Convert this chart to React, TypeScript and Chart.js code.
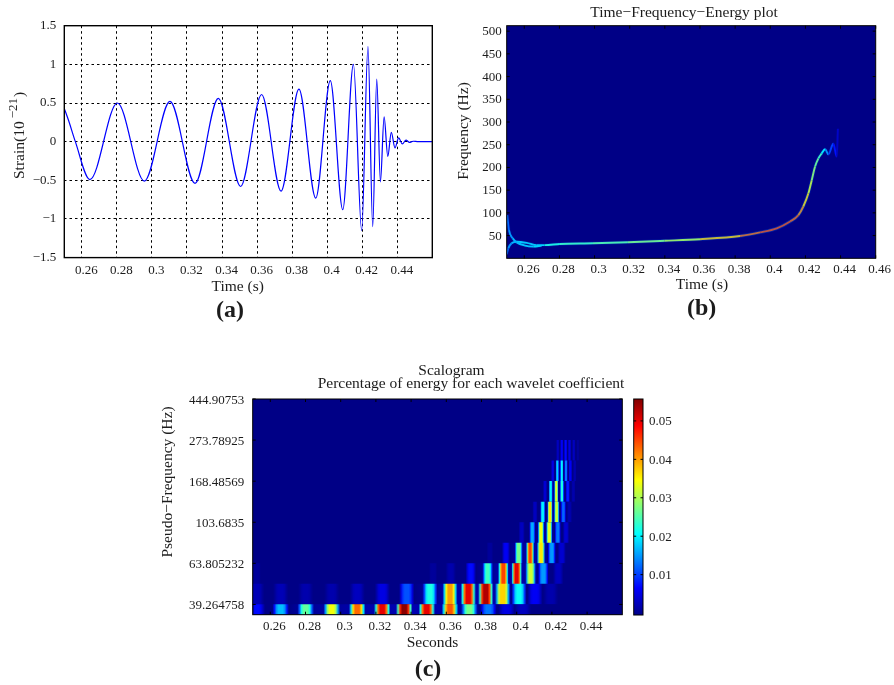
import React, { useEffect, useRef } from "react";
import { Chart, registerables } from "chart.js";

Chart.register(...registerables);

// ---------- panel (a): strain waveform ----------
const strainTimes = [0.25, 0.2525, 0.2563, 0.2646, 0.2803, 0.2957, 0.3103, 0.3246, 0.3379, 0.3506, 0.3626, 0.3737, 0.3839, 0.3935, 0.4018, 0.4089, 0.415, 0.4197, 0.4233, 0.426, 0.4283, 0.4304, 0.4325, 0.4346, 0.4366, 0.4387, 0.4408, 0.4429, 0.445, 0.447, 0.449, 0.452, 0.46];
const strainValues = [0.43, 0.27, 0, -0.49, 0.5, -0.51, 0.52, -0.54, 0.56, -0.58, 0.61, -0.64, 0.68, -0.73, 0.79, -0.88, 1.0, -1.15, 1.23, -1.1, 0.81, -0.52, 0.32, -0.19, 0.12, -0.08, 0.05, -0.03, 0.02, -0.01, 0.005, 0, 0];
const strainTicks = [-1.5, -1, -0.5, 0, 0.5, 1, 1.5];
const timeTicksA = [0.26, 0.28, 0.3, 0.32, 0.34, 0.36, 0.38, 0.4, 0.42, 0.44];
const timeTicksB = [0.26, 0.28, 0.3, 0.32, 0.34, 0.36, 0.38, 0.4, 0.42, 0.44, 0.46];

// ---------- panel (b): time-frequency-energy ridge ----------
const freqTicks = [50, 100, 150, 200, 250, 300, 350, 400, 450, 500];
const ridgeATimes = [0.2503, 0.2513, 0.2534, 0.2557, 0.2604, 0.2651, 0.2699];
const ridgeAFreq = [95, 62, 44, 35, 28, 26, 28];
const ridgeAEnergy = [0.2, 0.25, 0.3, 0.33, 0.32, 0.33, 0.38];
const ridgeBTimes = [0.25, 0.2509, 0.2528, 0.2557, 0.2614, 0.2671, 0.2716, 0.2803, 0.2991, 0.319, 0.34, 0.36, 0.3828, 0.3942, 0.4037, 0.4113, 0.416, 0.4188, 0.4217, 0.4236, 0.4255, 0.4274, 0.4293, 0.4312, 0.4331, 0.4359, 0.4378, 0.4385];
const ridgeBFreq = [9, 22, 33, 36.5, 34, 29, 29, 31.5, 33, 35.2, 38.5, 42, 49, 57, 66, 81, 95, 114, 143, 172, 202, 220, 231, 240, 229, 252, 224, 285];
const ridgeBEnergy = [0.2, 0.25, 0.3, 0.33, 0.33, 0.33, 0.36, 0.45, 0.42, 0.5, 0.5, 0.6, 0.75, 0.8, 0.82, 0.8, 0.78, 0.7, 0.62, 0.55, 0.5, 0.48, 0.4, 0.33, 0.2, 0.17, 0.1, 0.04];

// ---------- panel (c): scalogram ----------
const scaleLabels = ["39.264758", "63.805232", "103.6835", "168.48569", "273.78925", "444.90753"];
const timeTicksC = [0.26, 0.28, 0.3, 0.32, 0.34, 0.36, 0.38, 0.4, 0.42, 0.44];
const colorTicks = [0.01, 0.02, 0.03, 0.04, 0.05];
const rowLevels = [-0.125, 0.25, 0.75, 1.25, 1.75, 2.25, 2.75, 3.25, 3.75];
const rowHalfWidths = [0.0047, 0.0043, 0.003, 0.0023, 0.0018, 0.0015, 0.0012, 0.001, 0.0009];
const row0Times = [0.2523, 0.2659, 0.2801, 0.2949, 0.3094, 0.3236, 0.3361, 0.3489, 0.3621, 0.3731, 0.3839, 0.3943, 0.4035];
const row0Energy = [0.007, 0.017, 0.026, 0.034, 0.043, 0.05, 0.055, 0.05, 0.044, 0.027, 0.013, 0.005, 0.003];
const row1Times = [0.2523, 0.2659, 0.2801, 0.2949, 0.3094, 0.3237, 0.3375, 0.3507, 0.3621, 0.3725, 0.3824, 0.392, 0.4013, 0.4104, 0.4193];
const row1Energy = [0.0025, 0.0025, 0.002, 0.002, 0.003, 0.005, 0.011, 0.022, 0.04, 0.05, 0.053, 0.037, 0.021, 0.006, 0.002];
const row2Times = [0.2523, 0.3375, 0.3525, 0.3625, 0.3739, 0.3835, 0.3924, 0.4, 0.4079, 0.4151, 0.4236, 0.43];
const row2Energy = [0.001, 0.0005, 0.001, 0.002, 0.007, 0.024, 0.045, 0.05, 0.032, 0.015, 0.003, 0.0005];
const row3Times = [0.3848, 0.3939, 0.4011, 0.4076, 0.4138, 0.4199, 0.4256, 0.4313];
const row3Energy = [0.001, 0.006, 0.027, 0.045, 0.036, 0.015, 0.004, 0.0005];
const row4Times = [0.4028, 0.4089, 0.4138, 0.4185, 0.4233, 0.428];
const row4Energy = [0.003, 0.016, 0.034, 0.033, 0.013, 0.004];
const row5Times = [0.4104, 0.4148, 0.4189, 0.4227, 0.4265, 0.43];
const row5Energy = [0.003, 0.02, 0.036, 0.032, 0.012, 0.002];
const row6Times = [0.4161, 0.4193, 0.4225, 0.4257, 0.429, 0.4322];
const row6Energy = [0.004, 0.02, 0.033, 0.022, 0.008, 0.002];
const row7Times = [0.4205, 0.4231, 0.4256, 0.428, 0.4305, 0.433];
const row7Energy = [0.005, 0.018, 0.02, 0.013, 0.006, 0.002];
const row8Times = [0.4233, 0.4256, 0.4278, 0.43, 0.4324, 0.4347];
const row8Energy = [0.003, 0.006, 0.007, 0.005, 0.003, 0.001];
const rowTimes = [row0Times, row1Times, row2Times, row3Times, row4Times, row5Times, row6Times, row7Times, row8Times];
const rowEnergy = [row0Energy, row1Energy, row2Energy, row3Energy, row4Energy, row5Energy, row6Energy, row7Energy, row8Energy];

// ---------- styling helpers ----------
const SERIF = '"Liberation Serif", serif';
const INK = "#1c1c1c";
const NAVY = "#000086";
const TICK_FONT = { family: SERIF, size: 13 };
const W = 894;
const H = 685;
const CMIN = -0.0005;
const CMAX = 0.0557;

function clamp01(v: number) {
  return Math.max(0, Math.min(1, v));
}
function jet(x: number) {
  const f = (c: number) => Math.round(255 * clamp01(1.5 - Math.abs(4 * x - c)));
  const blue = x < 0.02 ? 134 : f(1);
  return `rgb(${f(3)},${f(2)},${blue})`;
}
const energyColor = (v: number) => jet((v - CMIN) / (CMAX - CMIN));
const tickText = (v: number) => (v < 0 ? "\u2212" + Math.abs(v) : String(+v.toFixed(4)));

type Label = { text: string; x: number; y: number; font: string; rotate?: boolean };
const titleFont = `15.5px ${SERIF}`;
const boldFont = `bold 24px ${SERIF}`;

function labelPlugin(labels: Label[]) {
  return {
    id: "panelLabels",
    afterDraw(chart: any) {
      const c = chart.ctx;
      for (const l of labels) {
        c.save();
        c.fillStyle = INK;
        c.font = l.font;
        c.textAlign = "center";
        c.textBaseline = "middle";
        c.translate(l.x, l.y);
        if (l.rotate) c.rotate(-Math.PI / 2);
        c.fillText(l.text, 0, 0);
        c.restore();
      }
    },
  };
}

function framePlugin(opts: { fill?: string; tick?: number; width?: number; xTicks?: boolean }) {
  return {
    id: "frame",
    beforeDatasetsDraw(chart: any) {
      if (!opts.fill) return;
      const a = chart.chartArea;
      chart.ctx.fillStyle = opts.fill;
      chart.ctx.fillRect(a.left, a.top, a.right - a.left, a.bottom - a.top);
    },
    afterDatasetsDraw(chart: any) {
      const a = chart.chartArea;
      const c = chart.ctx;
      c.save();
      c.strokeStyle = "#000";
      c.lineWidth = opts.width ?? 1;
      c.strokeRect(a.left, a.top, a.right - a.left, a.bottom - a.top);
      const t = opts.tick ?? 0;
      if (t > 0) {
        c.lineWidth = 1;
        c.beginPath();
        if (opts.xTicks !== false) {
          for (const k of chart.scales.x.ticks) {
            const p = chart.scales.x.getPixelForValue(k.value);
            c.moveTo(p, a.bottom);
            c.lineTo(p, a.bottom - t);
            c.moveTo(p, a.top);
            c.lineTo(p, a.top + t);
          }
        }
        for (const k of chart.scales.y.ticks) {
          const p = chart.scales.y.getPixelForValue(k.value);
          c.moveTo(a.left, p);
          c.lineTo(a.left + t, p);
          c.moveTo(a.right, p);
          c.lineTo(a.right - t, p);
        }
        c.stroke();
      }
      c.restore();
    },
  };
}

const strainLabelPlugin = {
  id: "strainLabel",
  afterDraw(chart: any) {
    const c = chart.ctx;
    c.save();
    c.fillStyle = INK;
    c.translate(24, 179);
    c.rotate(-Math.PI / 2);
    c.textAlign = "left";
    c.textBaseline = "alphabetic";
    c.font = titleFont;
    const main = "Strain(10";
    c.fillText(main, 0, 0);
    let x = c.measureText(main).width + 3;
    c.font = `13px ${SERIF}`;
    c.fillText("\u221221", x, -7);
    x += c.measureText("\u221221").width + 1;
    c.font = titleFont;
    c.fillText(")", x, 0);
    c.restore();
  },
};

function xAxis(ticks: number[], bottomGap: number, grid: boolean, padding: number, labelOffset: number) {
  return {
    type: "linear",
    min: 0.25,
    max: 0.46,
    afterBuildTicks: (s: any) => {
      s.ticks = ticks.map((value) => ({ value }));
    },
    afterFit: (s: any) => {
      s.height = bottomGap;
    },
    grid: grid ? { display: true, color: "#000", lineWidth: 1, drawTicks: false } : { display: false, drawTicks: false },
    border: grid ? { display: false, dash: [2.5, 3] } : { display: false },
    ticks: {
      color: INK,
      font: TICK_FONT,
      padding,
      labelOffset,
      maxRotation: 0,
      minRotation: 0,
      autoSkip: false,
      callback: (v: number) => tickText(v),
    },
  };
}

function yAxis(min: number, max: number, ticks: number[], width: number, grid: boolean, padding: number, labelOffset: number, cb: (v: number) => string) {
  return {
    type: "linear",
    min,
    max,
    afterBuildTicks: (s: any) => {
      s.ticks = ticks.map((value) => ({ value }));
    },
    afterFit: (s: any) => {
      s.width = width;
    },
    grid: grid ? { display: true, color: "#000", lineWidth: 1, drawTicks: false } : { display: false, drawTicks: false },
    border: grid ? { display: false, dash: [2.5, 3] } : { display: false },
    ticks: { color: INK, font: TICK_FONT, padding, labelOffset, autoSkip: false, callback: (v: number) => cb(v) },
  };
}

const basePlugins = { legend: { display: false }, tooltip: { enabled: false }, title: { display: false } };

function zip(xs: number[], ys: number[]) {
  return xs.map((x, i) => ({ x, y: ys[i] }));
}

function ridgeHalo(times: number[], freq: number[], energy: number[]) {
  return {
    data: zip(times, freq),
    borderColor: "rgba(0,120,255,0.15)",
    borderWidth: 3.4,
    pointRadius: 0,
    cubicInterpolationMode: "monotone",
    segment: {
      borderColor: (c: any) => `rgba(0,120,255,${(0.35 * (energy[c.p0DataIndex] + energy[c.p1DataIndex])) / 2})`,
    },
  };
}

function ridgeDataset(times: number[], freq: number[], energy: number[]) {
  return {
    data: zip(times, freq),
    borderColor: jet(0.3),
    borderWidth: 1.9,
    pointRadius: 0,
    cubicInterpolationMode: "monotone",
    segment: { borderColor: (c: any) => jet((energy[c.p0DataIndex] + energy[c.p1DataIndex]) / 2) },
  };
}

const PROFILE_AT = [-1, -0.75, -0.5, -0.25, 0, 0.25, 0.5, 0.75, 1];
const PROFILE_GAIN = [0.05, 0.45, 0.85, 1, 1, 1, 0.85, 0.45, 0.05];

function rowDataset(index: number) {
  const times = rowTimes[index];
  const energy = rowEnergy[index];
  const h = rowHalfWidths[index];
  const level = rowLevels[index];
  return {
    data: [{ x: 0.25, y: level }, ...times.map((x) => ({ x, y: level })), { x: 0.46, y: level }],
    borderWidth: index === 0 ? 10.5 : 20.7,
    borderCapStyle: "butt",
    pointRadius: 0,
    clip: 0,
    tension: 0,
    borderColor: (ctx: any) => {
      const s = ctx.chart.scales.x;
      if (!s || !(s.right > s.left)) return NAVY;
      const g = ctx.chart.ctx.createLinearGradient(s.left, 0, s.right, 0);
      g.addColorStop(0, NAVY);
      times.forEach((t, i) => {
        PROFILE_AT.forEach((d, j) => {
          const off = (t + d * h - 0.25) / 0.21;
          if (off >= 0 && off <= 1) g.addColorStop(off, energyColor(CMIN + (energy[i] - CMIN) * PROFILE_GAIN[j]));
        });
      });
      g.addColorStop(1, NAVY);
      return g;
    },
  };
}

function buildWave(cv: HTMLCanvasElement) {
  const plot = { l: 64.3, r: 432.3, t: 25.7, b: 257.6 };
  return new Chart(cv, {
    type: "line",
    data: {
      datasets: [
        {
          data: zip(strainTimes, strainValues),
          borderColor: "#0000ff",
          borderWidth: 1.2,
          pointRadius: 0,
          cubicInterpolationMode: "monotone",
        },
      ],
    },
    options: {
      responsive: false,
      animation: false,
      layout: { padding: { left: 0, top: plot.t, right: W - plot.r, bottom: H - plot.b - 40 } },
      scales: {
        x: xAxis(timeTicksA, 40, true, 5, 4.5),
        y: yAxis(-1.5, 1.5, strainTicks, plot.l, true, 8, 0, tickText),
      },
      plugins: basePlugins,
    } as any,
    plugins: [
      framePlugin({ width: 1.4 }),
      strainLabelPlugin,
      labelPlugin([
        { text: "Time (s)", x: 237.7, y: 287, font: titleFont },
        { text: "(a)", x: 230, y: 311, font: boldFont },
      ]),
    ],
  } as any);
}

function buildRidge(cv: HTMLCanvasElement) {
  const plot = { l: 506.7, r: 875.7, t: 25.7, b: 258.3 };
  return new Chart(cv, {
    type: "line",
    data: {
      datasets: [
        ridgeHalo(ridgeATimes, ridgeAFreq, ridgeAEnergy),
        ridgeHalo(ridgeBTimes, ridgeBFreq, ridgeBEnergy),
        ridgeDataset(ridgeATimes, ridgeAFreq, ridgeAEnergy),
        ridgeDataset(ridgeBTimes, ridgeBFreq, ridgeBEnergy),
      ],
    },
    options: {
      responsive: false,
      animation: false,
      layout: { padding: { left: 0, top: plot.t, right: W - plot.r, bottom: H - plot.b - 40 } },
      scales: {
        x: xAxis(timeTicksB, 40, false, 3, 4),
        y: yAxis(0, 512, freqTicks, plot.l, false, 5, 0.5, tickText),
      },
      plugins: basePlugins,
    } as any,
    plugins: [
      framePlugin({ fill: NAVY, tick: 3 }),
      labelPlugin([
        { text: "Time\u2212Frequency\u2212Energy plot", x: 684, y: 13, font: titleFont },
        { text: "Frequency (Hz)", x: 464, y: 131, font: titleFont, rotate: true },
        { text: "Time (s)", x: 702, y: 285, font: titleFont },
        { text: "(b)", x: 701.7, y: 309, font: boldFont },
      ]),
    ],
  } as any);
}

function buildScalogram(cv: HTMLCanvasElement) {
  const plot = { l: 252.7, r: 622.3, t: 399, b: 614.7 };
  return new Chart(cv, {
    type: "line",
    data: { datasets: rowTimes.map((_, i) => rowDataset(i)) },
    options: {
      responsive: false,
      animation: false,
      layout: { padding: { left: 0, top: plot.t, right: W - plot.r, bottom: H - plot.b - 40 } },
      scales: {
        x: xAxis(timeTicksC, 40, false, 4.5, 4),
        y: yAxis(-0.25, 5, [0, 1, 2, 3, 4, 5], plot.l, false, 8.5, 1.5, (v) => scaleLabels[Math.round(v)] ?? ""),
      },
      plugins: basePlugins,
    } as any,
    plugins: [
      framePlugin({ fill: NAVY, tick: 3 }),
      labelPlugin([
        { text: "Scalogram", x: 451.5, y: 371.3, font: titleFont },
        { text: "Percentage of energy for each wavelet coefficient", x: 471, y: 384, font: titleFont },
        { text: "Pseudo\u2212Frequency (Hz)", x: 168, y: 482, font: titleFont, rotate: true },
        { text: "Seconds", x: 432.5, y: 643.3, font: titleFont },
        { text: "(c)", x: 428, y: 669.3, font: boldFont },
      ]),
    ],
  } as any);
}

function buildColorbar(cv: HTMLCanvasElement) {
  const plot = { l: 633.7, r: 643, t: 399, b: 615 };
  return new Chart(cv, {
    type: "line",
    data: {
      datasets: [
        {
          data: [
            { x: 0.5, y: CMIN },
            { x: 0.5, y: CMAX },
          ],
          borderWidth: plot.r - plot.l,
          borderCapStyle: "butt",
          pointRadius: 0,
          clip: 0,
          borderColor: (ctx: any) => {
            const s = ctx.chart.scales.y;
            if (!s || !(s.bottom > s.top)) return NAVY;
            const g = ctx.chart.ctx.createLinearGradient(0, s.bottom, 0, s.top);
            [0, 0.125, 0.375, 0.625, 0.875, 1].forEach((p) => g.addColorStop(p, jet(p)));
            return g;
          },
        },
      ],
    },
    options: {
      responsive: false,
      animation: false,
      layout: { padding: { left: plot.l, top: plot.t, right: W - plot.r - 40, bottom: H - plot.b } },
      scales: {
        x: { type: "linear", display: false, min: 0, max: 1 },
        y: {
          ...yAxis(CMIN, CMAX, colorTicks, 40, false, 6, 1, (v) => String(v)),
          position: "right",
        },
      },
      plugins: basePlugins,
    } as any,
    plugins: [framePlugin({ tick: 2.5, xTicks: false })],
  } as any);
}

export default function App() {
  const a = useRef<HTMLCanvasElement>(null);
  const b = useRef<HTMLCanvasElement>(null);
  const c = useRef<HTMLCanvasElement>(null);
  const d = useRef<HTMLCanvasElement>(null);
  useEffect(() => {
    const charts = [buildWave(a.current!), buildRidge(b.current!), buildScalogram(c.current!), buildColorbar(d.current!)];
    return () => charts.forEach((ch) => ch.destroy());
  }, []);
  const style: React.CSSProperties = { position: "absolute", left: 0, top: 0, width: W, height: H };
  return (
    <div style={{ position: "absolute", left: 0, top: 0, width: W, height: H, background: "#fff", overflow: "hidden" }}>
      <canvas ref={a} width={W} height={H} style={style} />
      <canvas ref={b} width={W} height={H} style={style} />
      <canvas ref={c} width={W} height={H} style={style} />
      <canvas ref={d} width={W} height={H} style={style} />
    </div>
  );
}
